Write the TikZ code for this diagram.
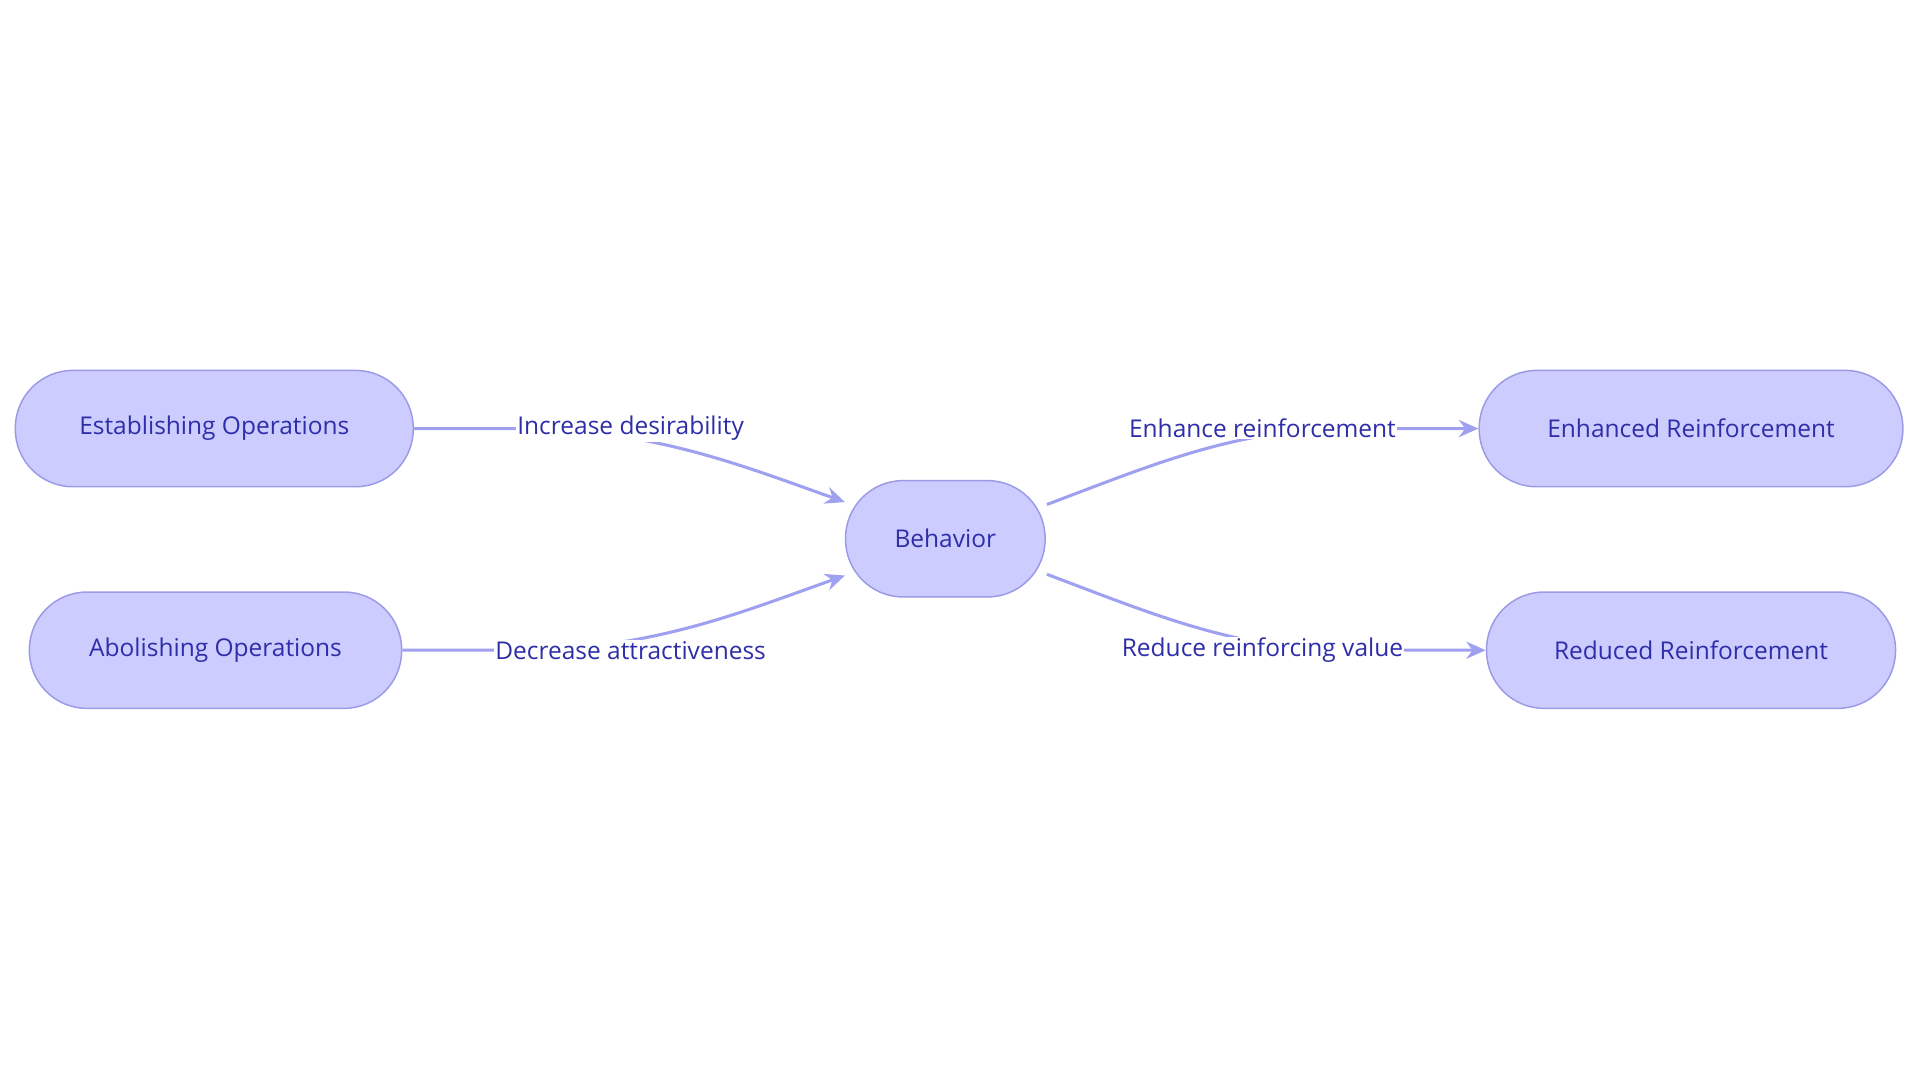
\documentclass[tikz,border=0pt]{standalone}
\usepackage{fontspec}
\setmainfont{Open Sans}
\usetikzlibrary{arrows.meta}
\definecolor{nfill}{HTML}{CCCCFF}
\definecolor{nline}{HTML}{9A9AE6}
\definecolor{ntext}{HTML}{2E2EA8}
\definecolor{eline}{HTML}{A0A0F0}
\begin{document}
\begin{tikzpicture}[x=1pt,y=1pt,
  box/.style={draw=nline,fill=nfill,rounded corners=47pt,line width=1.2pt,minimum height=95pt,text=ntext,font=\fontsize{20}{24}\selectfont},
  lbl/.style={fill=white,text=ntext,inner sep=1pt,font=\fontsize{20}{24}\selectfont},
  edge/.style={draw=eline,line width=2.5pt,-{Stealth[length=16pt,width=14pt]}}]
\useasboundingbox (0,0) rectangle (1568,-882);
\node[box,minimum width=325pt] (E) at (175,-350) {Establishing Operations};
\node[box,minimum width=304pt] (A) at (176,-531) {Abolishing Operations};
\node[box,minimum width=163pt] (B) at (772,-440) {Behavior};
\node[box,minimum width=346pt] (R1) at (1381,-350) {Enhanced Reinforcement};
\node[box,minimum width=334pt] (R2) at (1381,-531) {Reduced Reinforcement};
\coordinate (b1) at (690,-410);
\coordinate (b2) at (690,-470);
\coordinate (b3) at (855,-412);
\coordinate (b4) at (855,-469);
\draw[edge] (E.east) -- (420,-350) .. controls (530,-350) and (600,-378) .. (b1);
\draw[edge] (A.east) -- (420,-531) .. controls (530,-531) and (600,-502) .. (b2);
\draw[edge] (b3) .. controls (940,-380) and (1010,-350) .. (1100,-350) -- (R1.west);
\draw[edge] (b4) .. controls (940,-501) and (1010,-531) .. (1100,-531) -- (R2.west);
\node[lbl] (l1) at (515,-350) {Increase desirability};
\node[lbl] (l2) at (515,-531) {Decrease attractiveness};
\node[lbl] (l3) at (1031,-350) {Enhance reinforcement};
\node[lbl] (l4) at (1031,-531) {Reduce reinforcing value};
\end{tikzpicture}
\end{document}
